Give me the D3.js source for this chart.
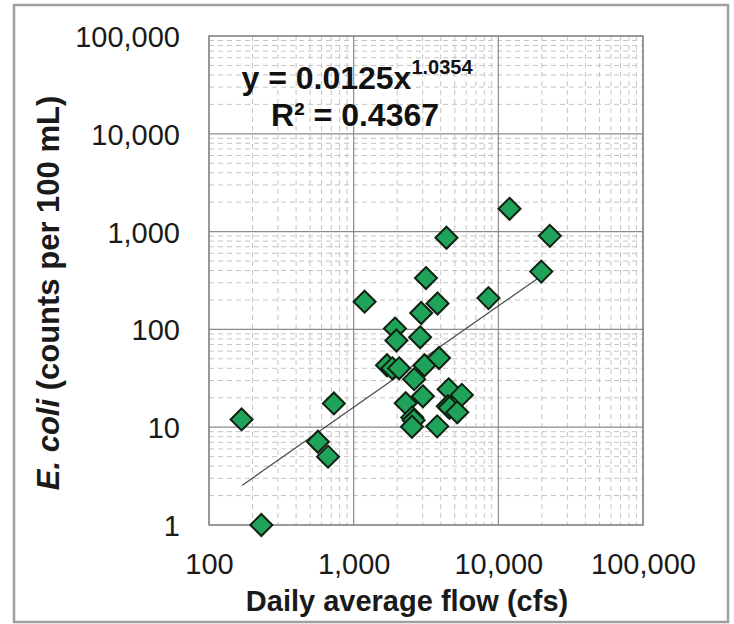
<!DOCTYPE html>
<html>
<head>
<meta charset="utf-8">
<script src="https://cdn.jsdelivr.net/npm/d3@7"></script>
<style>
  body { margin: 0; background: #fff; }
  svg { display: block; font-family: "Liberation Sans", Arial, sans-serif; }
</style>
</head>
<body>
<svg id="chart"></svg>
<script>
// data
const flow = [168, 230, 566, 665, 730, 1190, 1930, 1975, 1700, 1850, 2060, 2290, 2620, 2540, 2600, 2530,
  2930, 2880, 3010, 3090, 3160, 3800, 3890, 3780, 4380, 4530, 4470, 4600, 5200, 5600, 8550, 11950, 19800, 22700];
const ecoli = [12, 1, 7.1, 5, 17.5, 192, 102, 77, 43, 40, 40, 17.6, 31, 12.6, 11.8, 10.1,
  147, 83, 20.7, 43, 335, 184, 51, 10.2, 865, 24.4, 16.4, 15.8, 14.2, 21.4, 209, 1710, 390, 905];
const trendX = [170, 19800];
const trendY = [2.55, 352];
const xTicks = [100, 1000, 10000, 100000];
const yTicks = [1, 10, 100, 1000, 10000, 100000];

const width = 734;
const height = 624;
const plot = {left: 209, right: 643, top: 36, bottom: 525};

const svg = d3.select('#chart')
  .attr('width', width)
  .attr('height', height);

// outer frame
svg.append('rect')
  .attr('x', 14).attr('y', 5)
  .attr('width', 714).attr('height', 617)
  .attr('fill', 'none')
  .attr('stroke', '#a0a0a0')
  .attr('stroke-width', 2.5);

const xScale = d3.scaleLog().domain([100, 100000]).range([plot.left, plot.right]);
const yScale = d3.scaleLog().domain([1, 100000]).range([plot.bottom, plot.top]);

// minor grid values (2..9 in each decade)
const minorX = [];
xTicks.slice(0, -1).forEach(d => { for (let k = 2; k <= 9; k++) minorX.push(d * k); });
const minorY = [];
yTicks.slice(0, -1).forEach(d => { for (let k = 2; k <= 9; k++) minorY.push(d * k); });

const grid = svg.append('g');
grid.selectAll('.mx').data(minorX).enter().append('line')
  .attr('x1', d => xScale(d)).attr('x2', d => xScale(d))
  .attr('y1', plot.top).attr('y2', plot.bottom)
  .attr('stroke', '#c4c4c4').attr('stroke-width', 1)
  .attr('stroke-dasharray', '5,4');
grid.selectAll('.my').data(minorY).enter().append('line')
  .attr('y1', d => yScale(d)).attr('y2', d => yScale(d))
  .attr('x1', plot.left).attr('x2', plot.right)
  .attr('stroke', '#c4c4c4').attr('stroke-width', 1)
  .attr('stroke-dasharray', '5,4');
grid.selectAll('.Mx').data(xTicks).enter().append('line')
  .attr('x1', d => xScale(d)).attr('x2', d => xScale(d))
  .attr('y1', plot.top).attr('y2', plot.bottom)
  .attr('stroke', '#8c8c8c').attr('stroke-width', 1.2);
grid.selectAll('.My').data(yTicks).enter().append('line')
  .attr('y1', d => yScale(d)).attr('y2', d => yScale(d))
  .attr('x1', plot.left).attr('x2', plot.right)
  .attr('stroke', '#8c8c8c').attr('stroke-width', 1.2);

// plot frame
svg.append('rect')
  .attr('x', plot.left).attr('y', plot.top)
  .attr('width', plot.right - plot.left).attr('height', plot.bottom - plot.top)
  .attr('fill', 'none').attr('stroke', '#8c8c8c').attr('stroke-width', 1.5);

// axes
const xAxis = d3.axisBottom(xScale).tickValues(xTicks).tickSize(0).tickFormat(d3.format(','));
const yAxis = d3.axisLeft(yScale).tickValues(yTicks).tickSize(0).tickFormat(d3.format(','));

const gx = svg.append('g')
  .attr('transform', `translate(0, ${plot.bottom})`)
  .call(xAxis);
gx.select('.domain').remove();
gx.selectAll('text')
  .attr('y', 49).attr('dy', 0)
  .attr('font-size', 29).attr('fill', '#1a1a1a')
  .attr('font-family', '"Liberation Sans", Arial, sans-serif');

const gy = svg.append('g')
  .attr('transform', `translate(${plot.left}, 0)`)
  .call(yAxis);
gy.select('.domain').remove();
gy.selectAll('text')
  .attr('x', -29).attr('dy', '0.36em')
  .attr('font-size', 29).attr('fill', '#1a1a1a')
  .attr('font-family', '"Liberation Sans", Arial, sans-serif');

// trend line
svg.append('line')
  .attr('x1', xScale(trendX[0])).attr('y1', yScale(trendY[0]))
  .attr('x2', xScale(trendX[1])).attr('y2', yScale(trendY[1]))
  .attr('stroke', '#4a4a4a').attr('stroke-width', 1.2);

// points
const points = flow.map((d, i) => ({x: d, y: ecoli[i]}));
svg.selectAll('.pt')
  .data(points)
  .enter()
  .append('path')
  .attr('class', 'pt')
  .attr('d', 'M0,-11L11,0L0,11L-11,0Z')
  .attr('transform', d => `translate(${xScale(d.x)}, ${yScale(d.y)})`)
  .attr('fill', '#1fa35a')
  .attr('stroke', '#102010')
  .attr('stroke-width', 2);

// equation
const eq = svg.append('text')
  .attr('x', 357).attr('y', 89)
  .attr('text-anchor', 'middle')
  .attr('font-weight', 'bold').attr('font-size', 32).attr('fill', '#111');
eq.append('tspan').text('y = 0.0125x');
eq.append('tspan').attr('dy', -15).attr('font-size', 20).text('1.0354');

svg.append('text')
  .attr('x', 355).attr('y', 126)
  .attr('text-anchor', 'middle')
  .attr('font-weight', 'bold').attr('font-size', 32).attr('fill', '#111')
  .text('R² = 0.4367');

// axis titles
svg.append('text')
  .attr('x', 407).attr('y', 611)
  .attr('text-anchor', 'middle')
  .attr('font-weight', 'bold').attr('font-size', 29).attr('fill', '#1a1a1a')
  .text('Daily average flow (cfs)');

const yt = svg.append('text')
  .attr('transform', 'translate(59, 293) rotate(-90)')
  .attr('text-anchor', 'middle')
  .attr('font-weight', 'bold').attr('font-size', 31).attr('fill', '#1a1a1a');
yt.append('tspan').attr('font-style', 'italic').text('E. coli');
yt.append('tspan').text(' (counts per 100 mL)');
</script>
</body>
</html>
